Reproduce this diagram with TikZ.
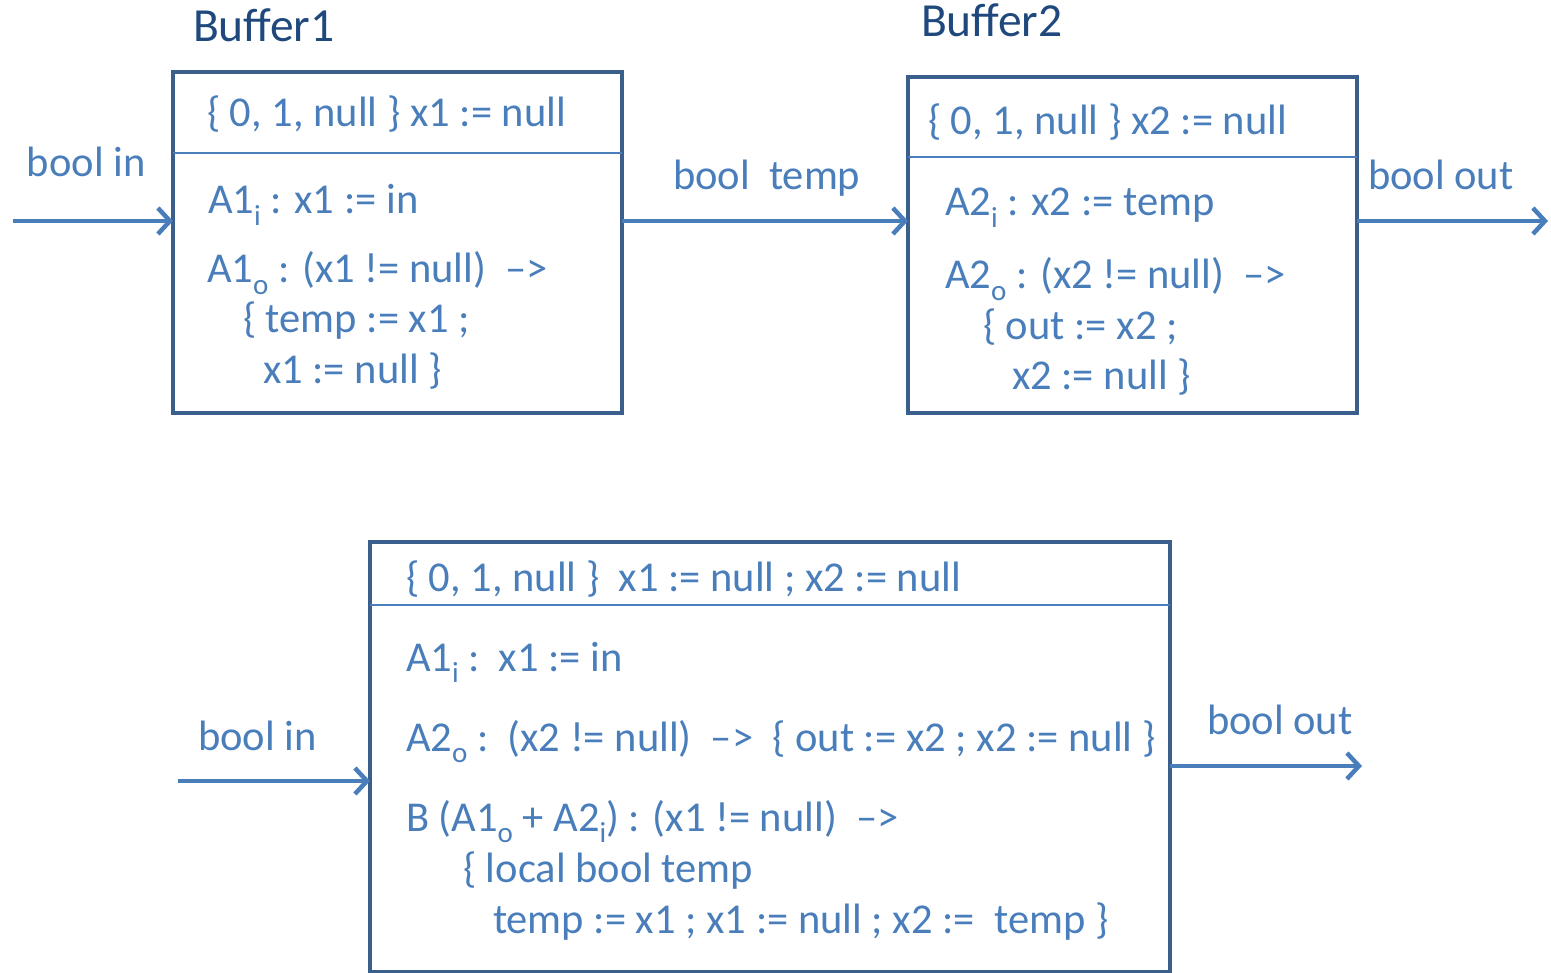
\documentclass[tikz,border=0pt]{standalone}
\usepackage{fontspec}
\setmainfont{Carlito}
\usetikzlibrary{arrows.meta}
\definecolor{txtblue}{HTML}{4A7EBB}
\definecolor{boxblue}{HTML}{3A5F8C}
\definecolor{titleblue}{HTML}{1F497D}
\newcommand{\lowsub}[1]{\raisebox{-0.26em}{\fontsize{29}{30}\selectfont #1}}
\begin{document}
\begin{tikzpicture}[x=1pt,y=-1pt,
  every node/.style={inner sep=0pt,outer sep=0pt},
  txt/.style={anchor=base west,text=txtblue,font=\fontsize{42.5}{48}\selectfont},
  ttl/.style={anchor=base west,text=titleblue,font=\fontsize{47.5}{52}\selectfont},
  boxframe/.style={draw=boxblue,line width=4.5pt},
  divider/.style={draw=txtblue,line width=1.8pt},
  flow/.style={draw=txtblue,line width=4.5pt,-{Straight Barb[length=12pt,width=26pt,line width=4.5pt]}}
]
\useasboundingbox (0,0) rectangle (1551,973);

% Box 1
\node[boxframe,minimum width=449pt,minimum height=341pt,anchor=north west] (b1) at (173,72) {};
\coordinate (d1l) at (173,153); \coordinate (d1r) at (622,153);
\draw[divider] (d1l) -- (d1r);
\node[ttl] (t1) at (193,42) {Buffer1};
\node[txt] (b1a) at (207,127) {\{ 0, 1, null \} x1 := null};
\node[txt] (b1b) at (208,214) {A1\lowsub{i} : x1 := in};
\node[txt] (b1c) at (207,283) {A1\lowsub{o} : (x1 != null)\ \ –>};
\node[txt] (b1d) at (243,333) {\{ temp := x1 ;};
\node[txt] (b1e) at (263,384) {x1 := null \}};

% Box 2
\node[boxframe,minimum width=449pt,minimum height=336pt,anchor=north west] (b2) at (908,77) {};
\coordinate (d2l) at (908,157); \coordinate (d2r) at (1357,157);
\draw[divider] (d2l) -- (d2r);
\node[ttl] (t2) at (921,37) {Buffer2};
\node[txt] (b2a) at (928,135) {\{ 0, 1, null \} x2 := null};
\node[txt] (b2b) at (945,216) {A2\lowsub{i} : x2 := temp};
\node[txt] (b2c) at (945,289) {A2\lowsub{o} : (x2 != null)\ \ –>};
\node[txt] (b2d) at (983,340) {\{ out := x2 ;};
\node[txt] (b2e) at (1012,390) {x2 := null \}};

% Box 3
\node[boxframe,minimum width=800pt,minimum height=430pt,anchor=north west] (b3) at (370,542) {};
\coordinate (d3l) at (370,605); \coordinate (d3r) at (1170,605);
\draw[divider] (d3l) -- (d3r);
\node[txt] (b3a) at (406,591) {\{ 0, 1, null \}\ \ x1 := null ; x2 := null};
\node[txt] (b3b) at (406,671) {A1\lowsub{i} :\ \ x1 := in};
\node[txt] (b3c) at (406,751) {A2\lowsub{o} :\ \ (x2 != null)\ \ –>\ \ \{ out := x2 ; x2 := null \}};
\node[txt] (b3d) at (406,831) {B (A1\lowsub{o} + A2\lowsub{i}) : (x1 != null)\ \ –>};
\node[txt] (b3e) at (463,882) {\{ local bool temp};
\node[txt] (b3f) at (493,933) {temp := x1 ; x1 := null ; x2 :=\ \ temp \}};

% Arrows and labels
\coordinate (in1) at (13,221);
\draw[flow] (in1) -- (b1.west |- in1);
\node[txt] (l1) at (27,177) {bool in};
\draw[flow] (b1.east |- in1) -- (b2.west |- in1);
\node[txt] (l2) at (673,190) {bool\ \ temp};
\coordinate (out2) at (1548,221);
\draw[flow] (b2.east |- out2) -- (out2);
\node[txt] (l3) at (1368,190) {bool out};

\coordinate (in3) at (178,781);
\draw[flow] (in3) -- (b3.west |- in3);
\node[txt] (l4) at (198,750) {bool in};
\coordinate (out3) at (1362,766);
\draw[flow] (b3.east |- out3) -- (out3);
\node[txt] (l5) at (1207,734) {bool out};
\end{tikzpicture}
\end{document}
